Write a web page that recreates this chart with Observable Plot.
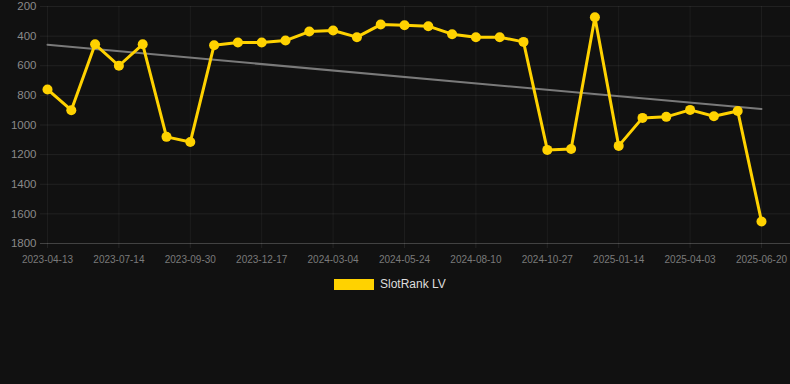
<!DOCTYPE html>
<html>
<head>
<meta charset="utf-8">
<script src="https://cdn.jsdelivr.net/npm/d3@7"></script>
<script src="https://cdn.jsdelivr.net/npm/@observablehq/plot@0.6"></script>
<style>
  html, body { margin: 0; padding: 0; background: #111111; }
  body { width: 790px; height: 384px; overflow: hidden; font-family: "Helvetica Neue", Helvetica, Arial, sans-serif; }
  #legend { display: flex; align-items: center; padding-left: 334px; margin-top: 8px; height: 12px; }
  #legend .sw { width: 40px; height: 11px; background: #FFD200; margin-right: 6px; }
  #legend .lb { color: #dddddd; font-size: 12px; }
</style>
</head>
<body>
<div id="chart"></div>
<div id="legend"><span class="sw"></span><span class="lb">SlotRank LV</span></div>
<script>
// Tick labels (every third data point)
const tickLabels = ["2023-04-13","2023-07-14","2023-09-30","2023-12-17","2024-03-04","2024-05-24","2024-08-10","2024-10-27","2025-01-14","2025-04-03","2025-06-20"];
// Rank values per data point (lower = better)
const ranks = [760, 900, 455, 600, 455, 1080, 1115, 461, 443, 443, 430, 369, 362, 407, 322, 326, 333, 387, 407, 407, 439, 1168, 1162, 272, 1141, 952, 945, 898, 941, 905, 1651];
const yTicks = [200, 400, 600, 800, 1000, 1200, 1400, 1600, 1800];
const seriesName = "SlotRank LV";

const data = ranks.map((v, i) => ({i, v}));
const xTicks = tickLabels.map((_, k) => k * 3);

const chart = Plot.plot({
  width: 790,
  height: 270,
  marginLeft: 40,
  marginRight: 0,
  marginTop: 6,
  marginBottom: 27,
  style: {background: "#111111", color: "#888888", fontFamily: "\"Helvetica Neue\", Helvetica, Arial, sans-serif", fontSize: "10px"},
  x: {domain: [0, ranks.length - 1], range: [47, 761]},
  y: {domain: [200, 1800], reverse: true},
  marks: [
    Plot.gridY(yTicks, {stroke: "#ffffff", strokeOpacity: 0.07}),
    Plot.gridX(xTicks, {stroke: "#ffffff", strokeOpacity: 0.05}),
    Plot.ruleY([1800], {stroke: "#ffffff", strokeOpacity: 0.15}),
    Plot.axisY(yTicks, {tickSize: 0, tickPadding: 4, fontSize: 11.5, fill: "#8a8a8a", label: null, tickFormat: d => String(d)}),
    Plot.axisX(xTicks, {tickSize: 5, tickPadding: 7, stroke: "#ffffff", strokeOpacity: 0.08, fill: "#7a7a7a", fontSize: 10, tickFormat: d => tickLabels[d / 3], label: null}),
    Plot.linearRegressionY(data, {x: "i", y: "v", stroke: "#7a7a7a", strokeWidth: 2, ci: 0}),
    Plot.line(data, {x: "i", y: "v", stroke: "#FFD200", strokeWidth: 3}),
    Plot.dot(data, {x: "i", y: "v", r: 5, fill: "#FFD200", stroke: "none"})
  ]
});
document.getElementById("chart").appendChild(chart);
</script>
</body>
</html>
